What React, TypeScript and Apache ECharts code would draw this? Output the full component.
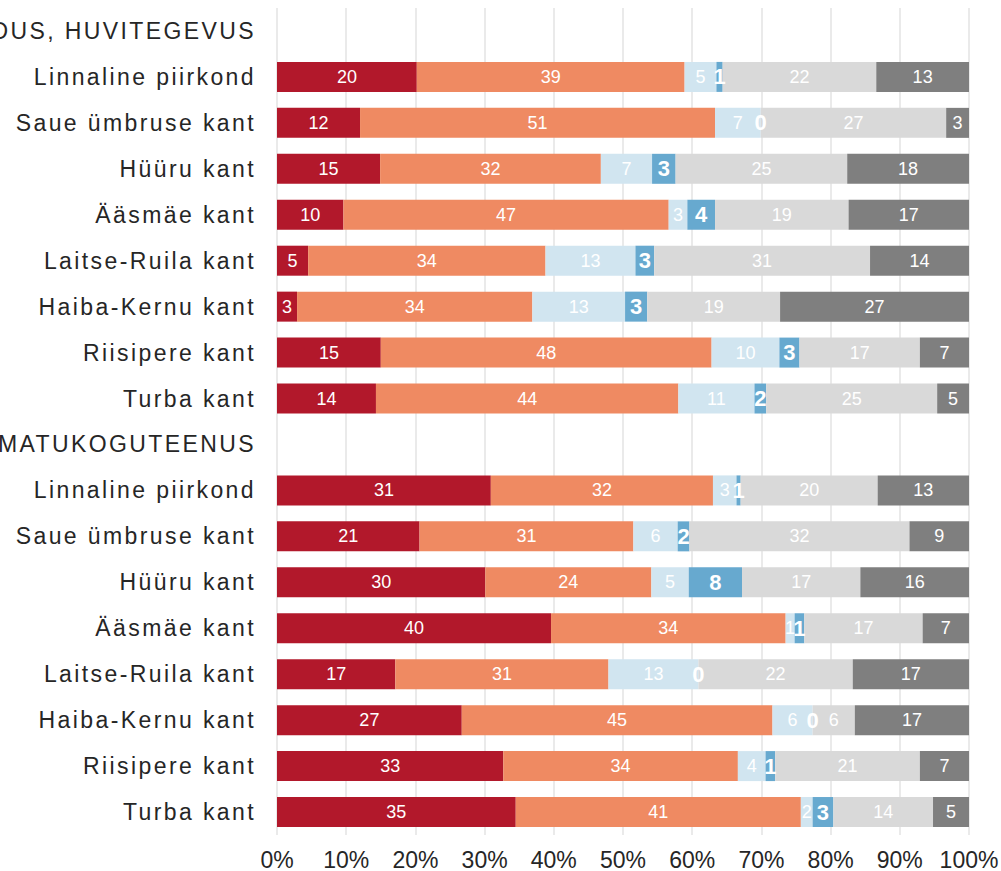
import React, { useEffect, useRef } from "react";
import * as echarts from "echarts";

const categories: string[] = [
  "HARIDUS, HUVITEGEVUS",
  "Linnaline piirkond",
  "Saue ümbruse kant",
  "Hüüru kant",
  "Ääsmäe kant",
  "Laitse-Ruila kant",
  "Haiba-Kernu kant",
  "Riisipere kant",
  "Turba kant",
  "RAAMATUKOGUTEENUS",
  "Linnaline piirkond",
  "Saue ümbruse kant",
  "Hüüru kant",
  "Ääsmäe kant",
  "Laitse-Ruila kant",
  "Haiba-Kernu kant",
  "Riisipere kant",
  "Turba kant",
];

const xTicks = [0, 10, 20, 30, 40, 50, 60, 70, 80, 90, 100];

// header rows carry no values ("-")
const s1 = ["-", 20.2, 12.0, 14.9, 9.6, 4.5, 2.9, 15.0, 14.3, "-", 30.9, 20.6, 30.1, 39.6, 17.1, 26.7, 32.7, 34.5];
const s2 = ["-", 38.7, 51.3, 31.9, 47.0, 34.3, 34.0, 47.8, 43.7, "-", 32.1, 30.9, 24.0, 33.9, 30.8, 44.9, 33.9, 41.2];
const s3 = ["-", 4.6, 6.6, 7.4, 2.7, 13.0, 13.4, 9.8, 11.0, "-", 3.4, 6.4, 5.4, 1.3, 13.0, 5.8, 4.0, 1.7];
const s4 = ["-", 0.9, 0.0, 3.4, 4.0, 2.7, 3.2, 2.9, 1.7, "-", 0.6, 1.7, 7.7, 1.4, 0.0, 0.0, 1.4, 3.0];
const s5 = ["-", 22.2, 26.8, 24.8, 19.3, 31.2, 19.2, 17.4, 24.7, "-", 19.8, 31.8, 17.1, 17.1, 22.3, 6.1, 20.9, 14.4];
const s6 = ["-", 13.4, 3.3, 17.6, 17.4, 14.3, 27.3, 7.1, 4.6, "-", 13.2, 8.6, 15.7, 6.7, 16.8, 16.5, 7.1, 5.2];

const seriesNames = ["Väga rahul", "Pigem rahul", "Pigem ei ole rahul", "Ei ole üldse rahul", "Ei oska öelda", "Ei ole kasutanud"];
const seriesData = [s1, s2, s3, s4, s5, s6];
const colors = ["#b2182b", "#ef8a62", "#d1e5f0", "#67a9cf", "#d9d9d9", "#7f7f7f"];

const FONT = "'Liberation Sans', Arial, Helvetica, sans-serif";

export default function App() {
  const ref = useRef<HTMLDivElement>(null);
  useEffect(() => {
    if (!ref.current) return;
    const chart = echarts.init(ref.current, undefined, { renderer: "svg" });
    chart.setOption({
      animation: false,
      grid: { left: 277, right: 32, top: 8, bottom: 36, containLabel: false, outerBoundsMode: "none" },
      xAxis: {
        type: "value",
        min: xTicks[0],
        max: xTicks[xTicks.length - 1],
        interval: 10,
        axisLine: { show: false },
        axisTick: { show: false },
        splitLine: { show: true, lineStyle: { color: "#e3e3e3", width: 1.5 } },
        axisLabel: {
          formatter: "{value}%",
          color: "#262626",
          fontSize: 23,
          fontFamily: FONT,
          margin: 13,
        },
      },
      yAxis: {
        type: "category",
        inverse: true,
        data: categories,
        axisLine: { show: false },
        axisTick: { show: false },
        splitLine: { show: false },
        axisLabel: {
          color: "#262626",
          fontSize: 23,
          fontFamily: FONT,
          margin: 21,
        },
      },
      series: seriesData.map((d, i) => ({
        name: seriesNames[i],
        type: "bar",
        stack: "total",
        data: d,
        barWidth: 30,
        itemStyle: { color: colors[i] },
        label: {
          show: true,
          position: "inside",
          color: "#ffffff",
          fontFamily: FONT,
          fontSize: i === 3 ? 22 : 18,
          fontWeight: i === 3 ? "bold" : "normal",
          formatter: (p: any) => String(Math.round(Number(p.value))),
        },
      })),
    });
    return () => chart.dispose();
  }, []);
  return (
    <>
      <style>{'#chartbox svg text[text-anchor="end"]{letter-spacing:2.4px;}'}</style>
      <div
        id="chartbox"
        ref={ref}
        style={{ position: "absolute", left: 0, top: 0, width: 1001, height: 871, background: "#ffffff" }}
      />
    </>
  );
}
